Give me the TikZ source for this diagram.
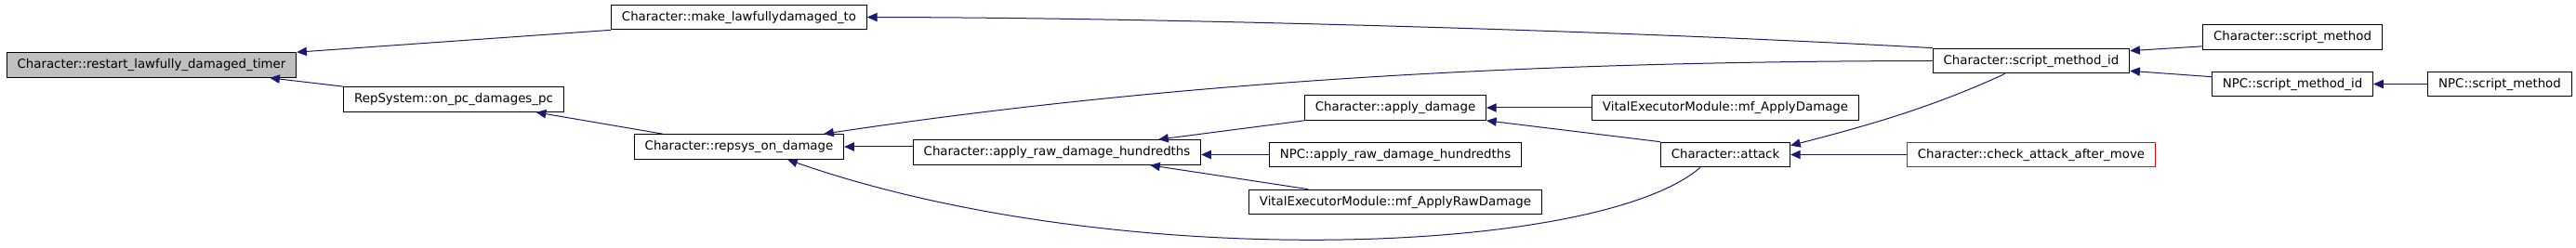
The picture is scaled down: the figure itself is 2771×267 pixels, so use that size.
\documentclass[tikz,border=0pt]{standalone}
\usepackage{fontspec}
\setmainfont{DejaVu Sans}
\usetikzlibrary{arrows.meta, calc}
\definecolor{callblue}{RGB}{25, 25, 112}
\definecolor{rootgray}{RGB}{191, 191, 191}

\begin{document}
\begin{tikzpicture}[x=0.75pt, y=-0.75pt,
  fn/.style={draw, line width=0.75pt, fill=white, inner xsep=8.5pt, inner ysep=0pt,
    minimum height=20pt, text height=7.5pt, text depth=2pt},
  call/.style={draw=callblue, line width=0.75pt, -{Triangle[length=8pt, width=7pt]}}]
  \useasboundingbox (0,0) rectangle (2771,267);
  % the function itself, then its callers from left to right
  \node[fn, fill=rootgray] (restart) at (163,70) {Character::restart\_lawfully\_damaged\_timer};
  \node[fn] (make) at (795,18.5) {Character::make\_lawfullydamaged\_to};
  \node[fn] (onpc) at (488,107) {RepSystem::on\_pc\_damages\_pc};
  \node[fn] (repsys) at (795,158) {Character::repsys\_on\_damage};
  \node[fn] (applyraw) at (1137,164) {Character::apply\_raw\_damage\_hundredths};
  \node[fn] (applydmg) at (1501,116) {Character::apply\_damage};
  \node[fn] (npcapply) at (1501,166.5) {NPC::apply\_raw\_damage\_hundredths};
  \node[fn] (mfraw) at (1501,217.5) {VitalExecutorModule::mf\_ApplyRawDamage};
  \node[fn] (mfdmg) at (1856,116) {VitalExecutorModule::mf\_ApplyDamage};
  \node[fn] (attack) at (1856,166.5) {Character::attack};
  \node[fn] (smid) at (2185,65.5) {Character::script\_method\_id};
  \node[fn, draw=red] (checkatk) at (2185,166.5) {Character::check\_attack\_after\_move};
  \node[fn] (csm) at (2466,40) {Character::script\_method};
  \node[fn] (npcsmid) at (2466,90.5) {NPC::script\_method\_id};
  \node[fn] (npcsm) at (2689,90.5) {NPC::script\_method};
  % calls, arrow at the callee
  \draw[call] (make.south west) -- (restart.north east);
  \draw[call] (onpc.north west) -- ($(restart.south east)+(-29,0)$);
  \draw[call] ($(repsys.north west)+(31,0)$) -- ($(onpc.south east)+(-30,0)$);
  \draw[call] (smid.north west) .. controls (1750,33) and (1250,19) .. (make.east);
  \draw[call] (smid.west) .. controls (1700,66) and (1300,82) .. ($(repsys.north east)+(-22,0)$);
  \draw[call] (applyraw.west |- repsys.east) -- (repsys.east);
  \draw[call] ($(attack.south west)+(43,0)$) .. controls (1720,275) and (1200,295) .. ($(repsys.south east)+(-61,0)$);
  \draw[call] (applydmg.south west) -- ($(applyraw.north east)+(-46,0)$);
  \draw[call] (npcapply.west) -- (npcapply.west -| applyraw.east);
  \draw[call] ($(mfraw.north west)+(64,0)$) -- ($(applyraw.south east)+(-55,0)$);
  \draw[call] (mfdmg.west) -- (applydmg.east);
  \draw[call] (attack.north west) -- (applydmg.south east);
  \draw[call] ($(smid.south west)+(78,0)$) .. controls (2080,115) and (2010,135) .. ($(attack.north east)+(0,4)$);
  \draw[call] (checkatk.west) -- (attack.east);
  \draw[call] ($(csm.south west)+(0,-4)$) -- ($(smid.north east)+(0,3)$);
  \draw[call] ($(npcsmid.north west)+(0,6)$) -- ($(smid.south east)+(0,-3)$);
  \draw[call] (npcsm.west) -- (npcsmid.east);
\end{tikzpicture}
\end{document}
